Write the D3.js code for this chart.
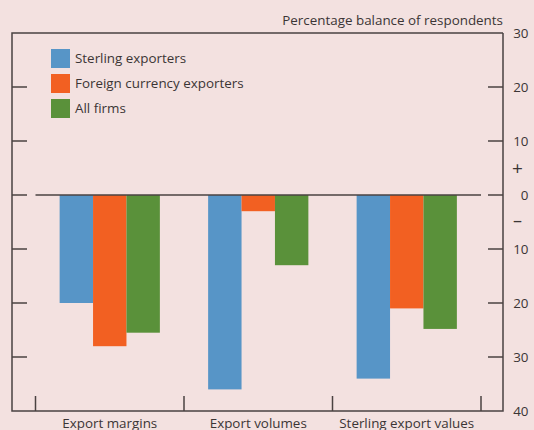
<!DOCTYPE html>
<html>
	<head>
		<title>Export survey balances</title>
		<script src="https://d3js.org/d3.v7.min.js"></script>
		<style>
			body { margin: 0px; background-color: #f3e1e0; }
			svg { display: block; }
			text { font-family: "Open Sans", sans-serif; fill: #3b3535; }
		</style>
	</head>
	<body>
		<svg id="chart" width="534" height="430"></svg>
		<script>
			// data
			var categories = ["Export margins", "Export volumes", "Sterling export values"];
			var seriesNames = ["Sterling exporters", "Foreign currency exporters", "All firms"];
			var sterlingExporters = [-20, -36, -34];
			var foreignCurrencyExporters = [-28, -3, -21];
			var allFirms = [-25.5, -13, -24.8];
			var yTicks = [30, 20, 10, 0, -10, -20, -30, -40];
			var colors = ["#5795c7", "#f26022", "#5a913a"];

			var series = [sterlingExporters, foreignCurrencyExporters, allFirms];

			var svg = d3.select("#chart");
			var plotLeft = 12, plotRight = 503, plotTop = 33, plotBottom = 411;
			var ink = "#4a4242";
			var fs = "13.4px";

			var y = d3.scaleLinear()
			.domain([30, -40])
			.range([plotTop, plotBottom]);

			var x0 = d3.scaleBand()
			.domain(categories)
			.range([35.5, 481])
			.paddingInner(0)
			.paddingOuter(0);

			var x1 = d3.scaleBand()
			.domain(d3.range(seriesNames.length))
			.range([0, x0.bandwidth() * 0.675]);
			var groupOffset = (x0.bandwidth() - x1.range()[1]) / 2;

			// bars
			categories.forEach(function(c, ci) {
				svg.append("g")
				.attr("transform", "translate(" + (x0(c) + groupOffset) + ",0)")
				.selectAll("rect")
				.data(series.map(function(s, si) { return {s: si, v: s[ci]}; }))
				.enter()
				.append("rect")
				.attr("fill", function(d) { return colors[d.s]; })
				.attr("x", function(d) { return x1(d.s); })
				.attr("width", x1.bandwidth())
				.attr("y", function(d) { return y(Math.max(0, d.v)); })
				.attr("height", function(d) { return Math.abs(y(d.v) - y(0)); });
			});

			// frame
			svg.append("path")
			.attr("d", "M" + plotRight + "," + plotTop + "H" + plotLeft + "V" + plotBottom + "H" + plotRight + "V" + plotTop)
			.attr("fill", "none")
			.attr("stroke", ink)
			.attr("stroke-width", 1.5);

			// zero line
			svg.append("line")
			.attr("x1", x0.range()[0])
			.attr("x2", x0.range()[1])
			.attr("y1", y(0))
			.attr("y2", y(0))
			.attr("stroke", ink)
			.attr("stroke-width", 1.5);

			// left + right ticks
			var inner = yTicks.filter(function(t) { return t < 30 && t > -40; });
			svg.selectAll(".ltick")
			.data(inner)
			.enter()
			.append("line")
			.attr("class", "ltick")
			.attr("x1", plotLeft)
			.attr("x2", plotLeft + 15)
			.attr("y1", function(d) { return y(d); })
			.attr("y2", function(d) { return y(d); })
			.attr("stroke", ink)
			.attr("stroke-width", 1.5);

			svg.selectAll(".rtick")
			.data(inner)
			.enter()
			.append("line")
			.attr("class", "rtick")
			.attr("x1", plotRight - 15)
			.attr("x2", plotRight)
			.attr("y1", function(d) { return y(d); })
			.attr("y2", function(d) { return y(d); })
			.attr("stroke", ink)
			.attr("stroke-width", 1.5);

			// right tick labels
			svg.selectAll(".ylab")
			.data(yTicks)
			.enter()
			.append("text")
			.attr("class", "ylab")
			.attr("x", 528.5)
			.attr("y", function(d) { return y(d); })
			.attr("dy", "0.35em")
			.attr("text-anchor", "end")
			.attr("font-size", fs)
			.text(function(d) { return Math.abs(d); });

			// sign markers
			svg.append("text")
			.attr("x", 517.5)
			.attr("y", y(5))
			.attr("dy", "0.35em")
			.attr("text-anchor", "middle")
			.attr("font-size", "19px")
			.text("+");
			svg.append("text")
			.attr("x", 517.5)
			.attr("y", y(-5))
			.attr("dy", "0.3em")
			.attr("text-anchor", "middle")
			.attr("font-size", "18px")
			.text("\u2013");

			// category ticks
			var bounds = categories.map(function(c) { return x0(c); }).concat([x0.range()[1]]);
			svg.selectAll(".xtick")
			.data(bounds)
			.enter()
			.append("line")
			.attr("class", "xtick")
			.attr("x1", function(d) { return d; })
			.attr("x2", function(d) { return d; })
			.attr("y1", plotBottom)
			.attr("y2", plotBottom - 15)
			.attr("stroke", ink)
			.attr("stroke-width", 1.5);

			svg.selectAll(".xlab")
			.data(categories)
			.enter()
			.append("text")
			.attr("class", "xlab")
			.attr("x", function(d) { return x0(d) + x0.bandwidth() / 2; })
			.attr("y", 428)
			.attr("text-anchor", "middle")
			.attr("font-size", fs)
			.text(function(d) { return d; });

			// title
			svg.append("text")
			.attr("x", plotRight)
			.attr("y", 25)
			.attr("text-anchor", "end")
			.attr("font-size", fs)
			.text("Percentage balance of respondents");

			// legend
			var legend = svg.selectAll(".leg")
			.data(seriesNames)
			.enter()
			.append("g")
			.attr("class", "leg")
			.attr("transform", function(d, i) { return "translate(51," + (49 + i * 25) + ")"; });
			legend.append("rect")
			.attr("width", 19)
			.attr("height", 19)
			.attr("fill", function(d, i) { return colors[i]; });
			legend.append("text")
			.attr("x", 24)
			.attr("y", 9.5)
			.attr("dy", "0.35em")
			.attr("font-size", fs)
			.text(function(d) { return d; });
		</script>
	</body>
</html>
